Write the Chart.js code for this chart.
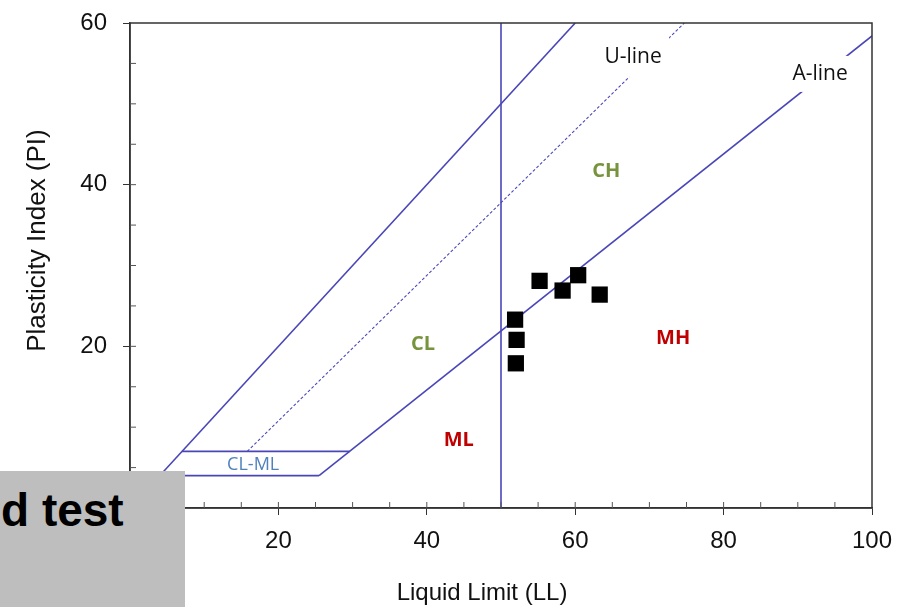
<!DOCTYPE html>
<html><head><meta charset="utf-8">
<script src="https://cdn.jsdelivr.net/npm/chart.js@4/dist/chart.umd.min.js"></script>
<style>
html,body{margin:0;padding:0;background:#fff;}
#wrap{position:relative;width:912px;height:607px;overflow:hidden;background:#fff;}
#c{position:absolute;left:0;top:0;}
#box{position:absolute;left:0;top:471px;width:185px;height:136px;background:#bebebe;}
#box span{position:absolute;left:1px;top:12px;font:bold 46px "Liberation Sans",Arial,sans-serif;color:#000;white-space:nowrap;}
</style></head><body>
<div id="wrap"><canvas id="c" width="912" height="607"></canvas><div id="box"><span>d test</span></div></div>
<script>
// ---- data ----
const sampleLL = [51.9, 52.1, 52.0, 55.2, 58.3, 60.4, 63.3];
const samplePI = [23.3, 20.8, 17.9, 28.1, 26.9, 28.8, 26.4];

const aLineLL = [25.48, 100];   const aLinePI = [4, 58.4];
const uLineLL = [15.8, 74.7];   const uLinePI = [7, 60];
const limitLL = [4, 60];        const limitPI = [4, 60];
const band7LL = [7, 29.6];      const band7PI = [7, 7];
const band4LL = [4, 25.48];     const band4PI = [4, 4];
const ll50LL  = [50, 50];       const ll50PI  = [0, 60];

const xTickLabels = [0, 20, 40, 60, 80, 100];
const yTickLabels = [0, 20, 40, 60];

const zoneNames = ['CH', 'CL', 'MH', 'ML', 'CL-ML', 'U-line', 'A-line'];
const zoneLL    = [64.2, 39.5, 73.2, 44.3, 16.6, 67.8, 93.0];
const zonePI    = [41.6, 20.2, 21.0, 8.4, 5.3, 55.8, 53.7];

const xTitle = 'Liquid Limit (LL)';
const yTitle = 'Plasticity Index (PI)';

// ---- build ----
const pts = (xs, ys) => xs.map((x, i) => ({x, y: ys[i]}));
const LINE = '#4a46b8';
const lineDs = (xs, ys, extra) => Object.assign({
  data: pts(xs, ys), showLine: true, borderColor: LINE, borderWidth: 1.6,
  pointRadius: 0, pointHoverRadius: 0, fill: false, order: 2
}, extra || {});

const zoneStyle = {
  'CH':    {font: 'bold 20px "Open Sans"', color: '#77933c'},
  'CL':    {font: 'bold 20px "Open Sans"', color: '#77933c'},
  'MH':    {font: 'bold 20px "Open Sans"', color: '#c00000'},
  'ML':    {font: 'bold 20px "Open Sans"', color: '#c00000'},
  'CL-ML': {font: '18px "Open Sans"', color: '#4f81bd'},
  'U-line':{font: '21px "Open Sans"', color: '#111', bg: [36, 20]},
  'A-line':{font: '21px "Open Sans"', color: '#111', bg: [32, 18]}
};

const overlay = {
  id: 'overlay',
  afterDatasetsDraw(chart) {
    const {ctx, scales: {x, y}} = chart;
    ctx.save();
    zoneNames.forEach((t, i) => {
      const st = zoneStyle[t];
      const px = x.getPixelForValue(zoneLL[i]), py = y.getPixelForValue(zonePI[i]);
      if (st.bg) {
        ctx.fillStyle = '#fff';
        ctx.fillRect(px - st.bg[0], py - st.bg[1], st.bg[0] * 2, st.bg[1] * 2);
      }
      ctx.font = st.font; ctx.fillStyle = st.color;
      ctx.textAlign = 'center'; ctx.textBaseline = 'middle';
      ctx.fillText(t, px, py);
    });
    ctx.restore();
  },
  afterDraw(chart) {
    const {ctx, chartArea: a, scales: {x, y}} = chart;
    ctx.save();
    ctx.strokeStyle = '#333'; ctx.lineWidth = 1.5;
    ctx.strokeRect(a.left, a.top, a.right - a.left, a.bottom - a.top);
    ctx.lineWidth = 1; ctx.strokeStyle = '#555';
    for (let v = 5; v < 100; v += 5) {
      const px = x.getPixelForValue(v);
      ctx.beginPath(); ctx.moveTo(px, a.bottom); ctx.lineTo(px, a.bottom - 6); ctx.stroke();
    }
    for (let v = 5; v < 60; v += 5) {
      const py = y.getPixelForValue(v);
      ctx.beginPath(); ctx.moveTo(a.left, py); ctx.lineTo(a.left + 6, py); ctx.stroke();
    }
    ctx.fillStyle = '#111'; ctx.textAlign = 'center'; ctx.textBaseline = 'middle';
    ctx.font = '24px "Liberation Sans", Arial, sans-serif';
    ctx.fillText(xTitle, (a.left + a.right) / 2 - 19, a.bottom + 85);
    ctx.translate(38, (a.top + a.bottom) / 2 - 25);
    ctx.rotate(-Math.PI / 2);
    ctx.font = '26px "Liberation Sans", Arial, sans-serif';
    ctx.fillText(yTitle, 0, 0);
    ctx.restore();
  }
};

const tickColor = c => (c.tick && c.tick.value % 20 === 0) ? '#333' : 'rgba(0,0,0,0)';

new Chart(document.getElementById('c'), {
  type: 'scatter',
  data: {
    datasets: [
      {data: pts(sampleLL, samplePI), pointStyle: 'rect', pointRadius: 11.5, pointHoverRadius: 11.5,
       backgroundColor: '#000', borderColor: '#000', borderWidth: 0, order: 0},
      lineDs(aLineLL, aLinePI),
      lineDs(uLineLL, uLinePI, {borderDash: [3, 2], borderWidth: 1.1}),
      lineDs(limitLL, limitPI),
      lineDs(band7LL, band7PI),
      lineDs(band4LL, band4PI),
      lineDs(ll50LL, ll50PI)
    ]
  },
  options: {
    responsive: false, animation: false, devicePixelRatio: 1,
    layout: {padding: {left: 0, top: 23, right: 40, bottom: 0}},
    plugins: {legend: {display: false}, tooltip: {enabled: false}},
    scales: {
      x: {
        type: 'linear', min: 0, max: 100, position: 'bottom',
        afterFit: s => { s.height = 99; s.paddingLeft = 0; s.paddingRight = 0; },
        ticks: {stepSize: 5, autoSkip: false, maxRotation: 0, padding: 12,
          callback: v => xTickLabels.includes(v) ? String(v) : '',
          font: {family: '"Liberation Sans", Arial, sans-serif', size: 24}, color: '#111'},
        grid: {drawOnChartArea: false, drawTicks: true, tickLength: 7, color: tickColor},
        border: {display: true, color: '#333', width: 1.5}
      },
      y: {
        type: 'linear', min: 0, max: 60,
        afterFit: s => { s.width = 130; s.paddingTop = 0; s.paddingBottom = 0; },
        ticks: {stepSize: 5, autoSkip: false, padding: 16,
          callback: v => yTickLabels.includes(v) ? String(v) : '',
          font: {family: '"Liberation Sans", Arial, sans-serif', size: 24}, color: '#111'},
        grid: {drawOnChartArea: false, drawTicks: true, tickLength: 7, color: tickColor},
        border: {display: true, color: '#333', width: 1.5}
      }
    }
  },
  plugins: [overlay]
});
</script>
</body></html>
